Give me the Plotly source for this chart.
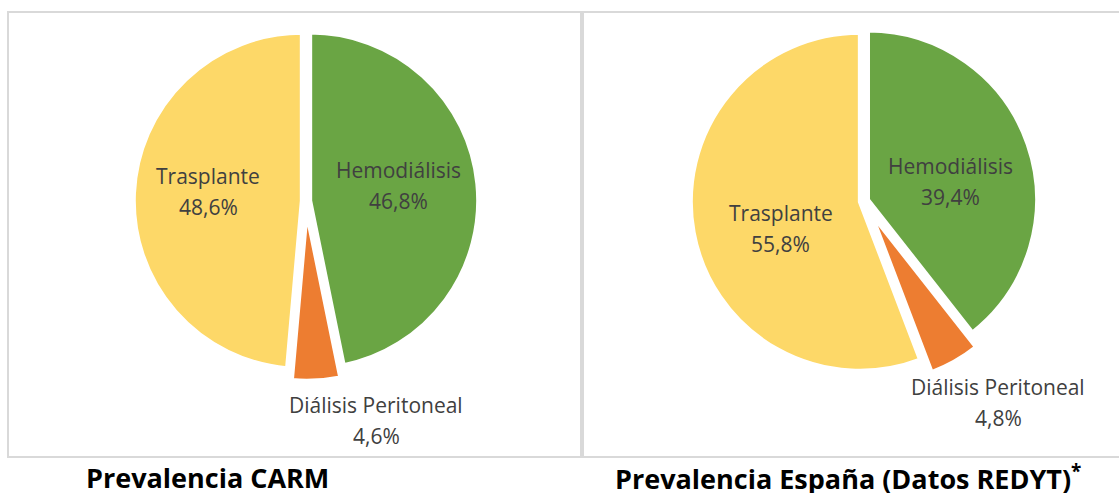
import plotly.graph_objects as go

# ---- data ----
categories = ["Hemodiálisis", "Diálisis Peritoneal", "Trasplante"]
carm_values = [46.8, 4.6, 48.6]
spain_values = [39.4, 4.8, 55.8]
titles = ["Prevalencia CARM", "Prevalencia España (Datos REDYT)<sup>*</sup>"]

colors = ["#6AA544", "#ED7D31", "#FDD868"]
W, H = 1119, 493
TEXT = "#404040"
FONT = "'Open Sans', Lato, sans-serif"


def px(x, y):
    return x / W, 1 - y / H


def domain(cx, cy, r, maxpull):
    half = r * (1 + maxpull)
    return dict(x=[(cx - half) / W, (cx + half) / W],
                y=[1 - (cy + half) / H, 1 - (cy - half) / H])


fig = go.Figure()

pulls_left = [0.025, 0.07, 0.025]
pulls_right = [0.025, 0.09, 0.025]

fig.add_trace(go.Pie(
    labels=categories, values=carm_values, sort=False, direction="clockwise",
    rotation=0, pull=pulls_left, textinfo="none", hoverinfo="label+percent",
    marker=dict(colors=colors, line=dict(color="white", width=4)),
    domain=domain(306, 201, 168, max(pulls_left)), showlegend=False,
))
fig.add_trace(go.Pie(
    labels=categories, values=spain_values, sort=False, direction="clockwise",
    rotation=0, pull=pulls_right, textinfo="none", hoverinfo="label+percent",
    marker=dict(colors=colors, line=dict(color="white", width=4)),
    domain=domain(864, 201, 169, max(pulls_right)), showlegend=False,
))


def fmt(v):
    return f"{v:.1f}%".replace(".", ",")


annotations = []
label_pos = [
    [(398, 170), (376, 405), (208, 176)],
    [(950, 166), (998, 387), (781, 213)],
]
for vals, positions in zip([carm_values, spain_values], label_pos):
    for cat, v, (x, y) in zip(categories, vals, positions):
        for txt, yy in [(cat, y), (fmt(v), y + 31)]:
            xp, yp = px(x, yy)
            annotations.append(dict(
                x=xp, y=yp, xref="paper", yref="paper", text=txt,
                showarrow=False, xanchor="center", yanchor="middle",
                font=dict(family=FONT, size=21, color=TEXT)))

for t, (x, y) in zip(titles, [(207, 477), (848, 477)]):
    xp, yp = px(x, y)
    annotations.append(dict(
        x=xp, y=yp, xref="paper", yref="paper", text=f"<b>{t}</b>",
        showarrow=False, xanchor="center", yanchor="middle",
        font=dict(family=FONT, size=27, color="#000000")))

shapes = []
for (x0, y0, x1, y1) in [(8, 12, 581, 457), (583, 12, 1130, 457)]:
    a = px(x0, y0)
    b = px(x1, y1)
    shapes.append(dict(type="rect", xref="paper", yref="paper",
                       x0=a[0], y0=b[1], x1=b[0], y1=a[1],
                       line=dict(color="#D9D9D9", width=2), fillcolor="rgba(0,0,0,0)",
                       layer="below"))

fig.update_layout(
    width=W, height=H, margin=dict(l=0, r=0, t=0, b=0),
    paper_bgcolor="white", plot_bgcolor="white",
    annotations=annotations, shapes=shapes,
)

fig.write_html("out.html", config={"displayModeBar": False},
               post_script="document.body.style.margin='0';")
